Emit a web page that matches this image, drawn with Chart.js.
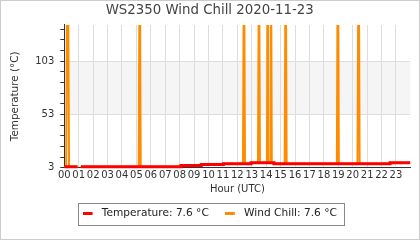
<!DOCTYPE html>
<html><head><meta charset="utf-8">
<script src="https://cdn.jsdelivr.net/npm/chart.js@4.4.1/dist/chart.umd.min.js"></script>
<style>html,body{margin:0;padding:0;background:#fff;}canvas{display:block;}</style>
</head><body>
<canvas id="c" width="420" height="240"></canvas>
<script>
// ---- data ----
const chartTitle = 'WS2350 Wind Chill 2020-11-23';
const seriesNames = ['Temperature', 'Wind Chill'];
const latestValues = ['7.6', '7.6'];
const xTickValues = [0,1,2,3,4,5,6,7,8,9,10,11,12,13,14,15,16,17,18,19,20,21,22,23];
const xTickLabels = ['00','01','02','03','04','05','06','07','08','09','10','11','12','13','14','15','16','17','18','19','20','21','22','23'];
const yTickValues = [3,13,23,33,43,53,63,73,83,93,103,113,123,133];
const yLabelValues = [3,53,103];
const bandRange = [53,103];

// Temperature (hour of day, °C)
const tempHours  = [0,   0.92, 0.93, 1.15, 8.09, 9.5, 11.03, 12.95, 14.54, 22.59, 24];
const tempValues = [3.9, 3.9,  null, 3.9,  5.0,  6.0, 6.7,   7.6,   6.8,   7.6,   7.6];

// Wind chill (hour of day, °C)
const windHours  = [0, 0.13, 0.23, 0.33, 0.92, 0.93, 1.15, 5.16, 5.23, 5.3, 8.09, 8.09, 9.5, 9.5, 11.03, 11.03,
                    12.39, 12.46, 12.53, 12.95, 12.95, 13.43, 13.5, 13.57, 14.05, 14.11, 14.17, 14.27, 14.33, 14.39,
                    14.54, 14.54, 15.28, 15.35, 15.42, 18.9, 18.97, 19.04, 20.33, 20.41, 20.48, 22.59, 22.59, 24];
const windValues = [3.9, 3.9, 260, 3.9, 3.9, null, 3.9, 3.9, 240, 3.9, 3.9, 5.0, 5.0, 6.0, 6.0, 6.7,
                    6.7, 230, 6.7, 6.7, 7.6, 7.6, 220, 7.6, 7.6, 230, 7.6, 7.6, 235, 7.6,
                    7.6, 6.8, 6.8, 230, 6.8, 6.8, 240, 6.8, 6.8, 250, 6.8, 6.8, 7.6, 7.6];

const toPoints = (xs, ys) => xs.map((x, i) => ({x: x, y: ys[i]}));

function marker(color) {
  const c = document.createElement('canvas');
  c.width = 14; c.height = 3;
  const g = c.getContext('2d');
  g.fillStyle = color;
  g.fillRect(0, 0, 10, 3);
  return c;
}
const colors = ['#ff0000', '#ff8c00'];

const bgPlugin = {
  id: 'bg',
  beforeDraw(chart) {
    const {ctx, chartArea: a, scales: {y}} = chart;
    ctx.save();
    ctx.fillStyle = '#fff';
    ctx.fillRect(0, 0, chart.width, chart.height);
    const y1 = y.getPixelForValue(bandRange[1]);
    const y0 = y.getPixelForValue(bandRange[0]);
    ctx.fillStyle = '#f5f5f5';
    ctx.fillRect(a.left, y1, a.right - a.left, y0 - y1);
    ctx.restore();
  },
  afterDraw(chart) {
    const ctx = chart.ctx;
    ctx.save();
    ctx.strokeStyle = '#cccccc';
    ctx.lineWidth = 1;
    ctx.strokeRect(0.5, 0.5, chart.width - 1, chart.height - 1);
    const hb = chart.legend && chart.legend.legendHitBoxes;
    if (hb && hb.length) {
      const l = hb[0].left - 5;
      const last = hb[hb.length - 1];
      const r = last.left + last.width + 7;
      const t = hb[0].top - 5.5;
      const h = hb[0].height + 11.5;
      ctx.strokeStyle = '#888';
      ctx.strokeRect(Math.round(l) + 0.5, Math.round(t) + 0.5, Math.round(r - l), Math.round(h));
    }
    ctx.restore();
  }
};

new Chart(document.getElementById('c'), {
  type: 'line',
  data: {
    datasets: [
      { label: seriesNames[0], data: toPoints(tempHours, tempValues), borderColor: colors[0], backgroundColor: colors[0],
        borderWidth: 3, pointRadius: 0, stepped: 'before', spanGaps: false, clip: {left: 0, right: 0, top: 0, bottom: 2} },
      { label: seriesNames[1], data: toPoints(windHours, windValues), borderColor: colors[1], backgroundColor: colors[1],
        borderWidth: 2, pointRadius: 0, tension: 0, spanGaps: false, clip: {left: 0, right: 0, top: 0, bottom: 2} }
    ]
  },
  options: {
    responsive: false,
    animation: false,
    devicePixelRatio: 1,
    layout: { padding: { left: 9, right: 9.6, top: 0, bottom: 11 } },
    plugins: {
      title: { display: true, text: chartTitle, color: '#444',
        font: { family: 'DejaVu Sans', size: 13.33, weight: 'normal' }, padding: { top: 3, bottom: 6 } },
      legend: {
        position: 'bottom',
        labels: {
          usePointStyle: true, pointStyleWidth: 14, padding: 16, color: '#222',
          font: { family: 'DejaVu Sans', size: 10.6 },
          generateLabels: (chart) => seriesNames.map((n, i) => ({
            text: n + ': ' + latestValues[i] + ' °C',
            pointStyle: marker(colors[i]), fillStyle: colors[i], strokeStyle: colors[i],
            lineWidth: 0, hidden: false, datasetIndex: i, fontColor: '#222'
          }))
        }
      },
      tooltip: { enabled: false }
    },
    scales: {
      x: {
        type: 'linear', min: 0, max: 24,
        afterBuildTicks: (s) => { s.ticks = xTickValues.map(v => ({value: v})); },
        afterFit: (s) => { s.height = 24.7; },
        ticks: { autoSkip: false, maxRotation: 0, padding: 2, color: '#333',
          font: { family: 'DejaVu Sans', size: 10 },
          callback: (v) => xTickLabels[xTickValues.indexOf(v)] },
        grid: { color: '#dddddd', drawTicks: false, lineWidth: 1 },
        border: { color: '#333', width: 1 },
        title: { display: true, text: 'Hour (UTC)', color: '#333',
          font: { family: 'DejaVu Sans', size: 10 }, padding: { top: 0, bottom: -3.5 } }
      },
      y: {
        type: 'linear', min: 3, max: 137,
        afterBuildTicks: (s) => { s.ticks = yTickValues.map(v => ({value: v})); },
        afterFit: (s) => { s.width = 55.3; },
        ticks: { autoSkip: false, padding: 6, color: '#333',
          font: { family: 'DejaVu Sans', size: 10 },
          callback: (v) => yLabelValues.includes(v) ? String(v) : '' },
        grid: {
          color: (c) => (c.tick && yLabelValues.includes(c.tick.value) && c.tick.value !== 3) ? '#dddddd' : 'rgba(0,0,0,0)',
          tickColor: '#333', tickLength: 4, drawTicks: true, lineWidth: 1
        },
        border: { color: '#333', width: 1 },
        title: { display: true, text: 'Temperature (°C)', color: '#333',
          font: { family: 'DejaVu Sans', size: 10.4 }, padding: { top: 0, bottom: 0 } }
      }
    }
  },
  plugins: [bgPlugin]
});
</script>
</body></html>
